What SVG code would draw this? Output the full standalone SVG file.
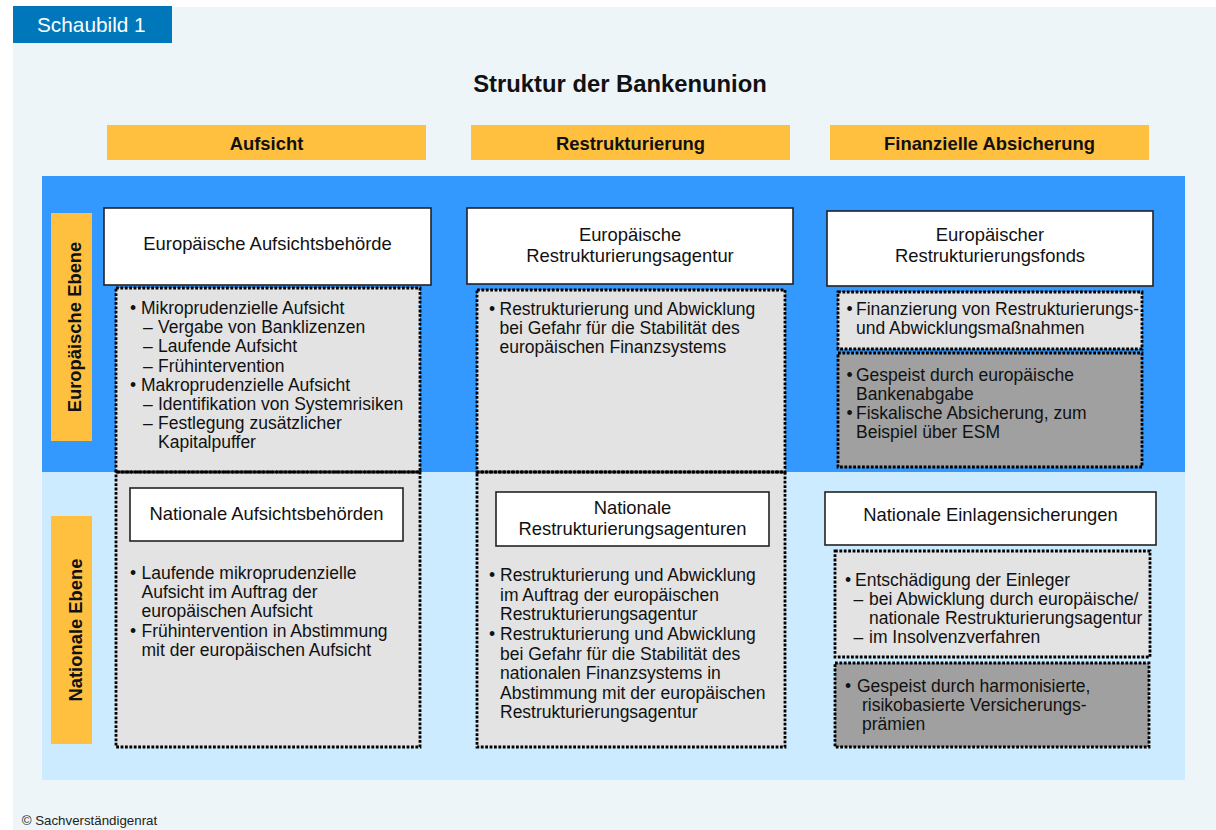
<svg xmlns="http://www.w3.org/2000/svg" width="1216" height="830" viewBox="0 0 1216 830">
<style>
text{font-family:"Liberation Sans",Arial,sans-serif;fill:#111}
.b{font-size:17.5px}
.t{font-size:18.4px;text-anchor:middle}
.h{font-size:18.4px;font-weight:bold;text-anchor:middle}
.wb{fill:#fff;stroke:#222;stroke-width:1.6}
.lg{fill:#E3E3E3}
.dg{fill:#A0A0A0}
.dot{fill:none;stroke:#000;stroke-width:2.8;stroke-dasharray:2.8 1.6}
.or{fill:#FFC040}
</style>
<rect x="13" y="7" width="1203" height="823" fill="#EDF5F8"/>
<g id="tab">
<rect x="13" y="6" width="159" height="37" fill="#0077BB"/>
<text x="37" y="32" style="font-size:20.8px;fill:#fff">Schaubild 1</text>
</g>
<text x="620" y="91.5" style="font-size:23.8px;font-weight:bold;text-anchor:middle">Struktur der Bankenunion</text>
<rect x="42" y="176" width="1143" height="296" fill="#3399FF"/>
<rect x="42" y="472" width="1143" height="308" fill="#CCEBFF"/>
<g id="hdr-aufsicht"><rect class="or" x="107" y="125" width="319" height="35"/><text class="h" x="266.5" y="150">Aufsicht</text></g>
<g id="hdr-restrukturierung"><rect class="or" x="471" y="125" width="319" height="35"/><text class="h" x="630.5" y="150">Restrukturierung</text></g>
<g id="hdr-finanz"><rect class="or" x="830" y="125" width="319" height="35"/><text class="h" x="989.5" y="150">Finanzielle Absicherung</text></g>
<g id="lbl-eu"><rect class="or" x="51" y="213" width="41" height="228"/><text class="h" transform="translate(80.5,327) rotate(-90)">Europäische Ebene</text></g>
<g id="lbl-nat"><rect class="or" x="51" y="516" width="41" height="228"/><text class="h" transform="translate(81.5,630) rotate(-90)">Nationale Ebene</text></g>
<g id="connectors"></g>
<g id="aufsicht-detail">
<rect class="lg" x="116" y="288" width="304" height="459"/>
<rect class="dot" x="116" y="288" width="304" height="184"/>
<rect class="dot" x="116" y="472" width="304" height="275"/>
<text class="b"><tspan x="130" y="314">•</tspan><tspan x="141" y="314">Mikroprudenzielle Aufsicht</tspan><tspan x="143" y="333.2">–</tspan><tspan x="158" y="333.2">Vergabe von Banklizenzen</tspan><tspan x="143" y="352.4">–</tspan><tspan x="158" y="352.4">Laufende Aufsicht</tspan><tspan x="143" y="371.6">–</tspan><tspan x="158" y="371.6">Frühintervention</tspan><tspan x="130" y="390.8">•</tspan><tspan x="141" y="390.8">Makroprudenzielle Aufsicht</tspan><tspan x="143" y="410">–</tspan><tspan x="158" y="410">Identifikation von Systemrisiken</tspan><tspan x="143" y="429.2">–</tspan><tspan x="158" y="429.2">Festlegung zusätzlicher</tspan><tspan x="158" y="448.4">Kapitalpuffer</tspan></text>
<text class="b"><tspan x="130" y="579">•</tspan><tspan x="141.5" y="579">Laufende mikroprudenzielle</tspan><tspan x="141.5" y="598">Aufsicht im Auftrag der</tspan><tspan x="141.5" y="617">europäischen Aufsicht</tspan><tspan x="130" y="637">•</tspan><tspan x="141.5" y="637">Frühintervention in Abstimmung</tspan><tspan x="141.5" y="656">mit der europäischen Aufsicht</tspan></text>
</g>
<g id="eu-aufsicht"><rect class="wb" x="104" y="208" width="327" height="77"/><text class="t" x="267.5" y="250">Europäische Aufsichtsbehörde</text></g>
<g id="nat-aufsicht"><rect class="wb" x="130" y="488" width="273" height="53"/><text class="t" x="266.5" y="520">Nationale Aufsichtsbehörden</text></g>
<g id="restr-detail">
<rect class="lg" x="477" y="290" width="308" height="457"/>
<rect class="dot" x="477" y="290" width="308" height="182"/>
<rect class="dot" x="477" y="472" width="308" height="275"/>
<text class="b"><tspan x="489" y="314.5">•</tspan><tspan x="499.5" y="314.5">Restrukturierung und Abwicklung</tspan><tspan x="499.5" y="333.5">bei Gefahr für die Stabilität des</tspan><tspan x="499.5" y="352.5">europäischen Finanzsystems</tspan></text>
<text class="b"><tspan x="489" y="581">•</tspan><tspan x="500" y="581">Restrukturierung und Abwicklung</tspan><tspan x="500" y="600.5">im Auftrag der europäischen</tspan><tspan x="500" y="620">Restrukturierungsagentur</tspan><tspan x="489" y="640">•</tspan><tspan x="500" y="640">Restrukturierung und Abwicklung</tspan><tspan x="500" y="659.5">bei Gefahr für die Stabilität des</tspan><tspan x="500" y="679">nationalen Finanzsystems in</tspan><tspan x="500" y="698.5">Abstimmung mit der europäischen</tspan><tspan x="500" y="718">Restrukturierungsagentur</tspan></text>
</g>
<g id="eu-restr"><rect class="wb" x="467" y="208" width="326" height="76"/><text class="t" x="630" y="240.5">Europäische</text><text class="t" x="630" y="261.5">Restrukturierungsagentur</text></g>
<g id="nat-restr"><rect class="wb" x="496" y="492" width="273" height="54"/><text class="t" x="632.5" y="514">Nationale</text><text class="t" x="632.5" y="535">Restrukturierungsagenturen</text></g>
<g id="eu-fonds"><rect class="wb" x="827" y="211" width="326" height="75"/><text class="t" x="990" y="240.5">Europäischer</text><text class="t" x="990" y="261.5">Restrukturierungsfonds</text></g>
<g id="fonds-finanz">
<rect class="lg" x="838" y="292" width="304" height="57"/><rect class="dot" x="838" y="292" width="304" height="57"/>
<text class="b"><tspan x="846.5" y="315">•</tspan><tspan x="856" y="315">Finanzierung von Restrukturierungs-</tspan><tspan x="856" y="333.5">und Abwicklungsmaßnahmen</tspan></text>
</g>
<g id="fonds-quelle">
<rect class="dg" x="838" y="353" width="304" height="114"/><rect class="dot" x="838" y="353" width="304" height="114"/>
<text class="b"><tspan x="846.5" y="380.5">•</tspan><tspan x="856" y="380.5">Gespeist durch europäische</tspan><tspan x="856" y="399.5">Bankenabgabe</tspan><tspan x="846.5" y="419">•</tspan><tspan x="856" y="419">Fiskalische Absicherung, zum</tspan><tspan x="856" y="438">Beispiel über ESM</tspan></text>
</g>
<g id="nat-einlagen"><rect class="wb" x="825" y="492" width="331" height="53"/><text class="t" x="990.5" y="521">Nationale Einlagensicherungen</text></g>
<g id="einlagen-entsch">
<rect class="lg" x="835" y="551" width="315" height="106"/><rect class="dot" x="835" y="551" width="315" height="106"/>
<text class="b"><tspan x="845" y="586">•</tspan><tspan x="855" y="586">Entschädigung der Einleger</tspan><tspan x="853.5" y="605">–</tspan><tspan x="869" y="605">bei Abwicklung durch europäische/</tspan><tspan x="869" y="624.2">nationale Restrukturierungsagentur</tspan><tspan x="853.5" y="643.3">–</tspan><tspan x="869" y="643.3">im Insolvenzverfahren</tspan></text>
</g>
<g id="einlagen-quelle">
<rect class="dg" x="835" y="663" width="314" height="84"/><rect class="dot" x="835" y="663" width="314" height="84"/>
<text class="b"><tspan x="845" y="692">•</tspan><tspan x="857" y="692">Gespeist durch harmonisierte,</tspan><tspan x="862" y="711">risikobasierte Versicherungs-</tspan><tspan x="862" y="730">prämien</tspan></text>
</g>
<text x="21.7" y="824.5" style="font-size:13.3px;fill:#222">© Sachverständigenrat</text>
</svg>
